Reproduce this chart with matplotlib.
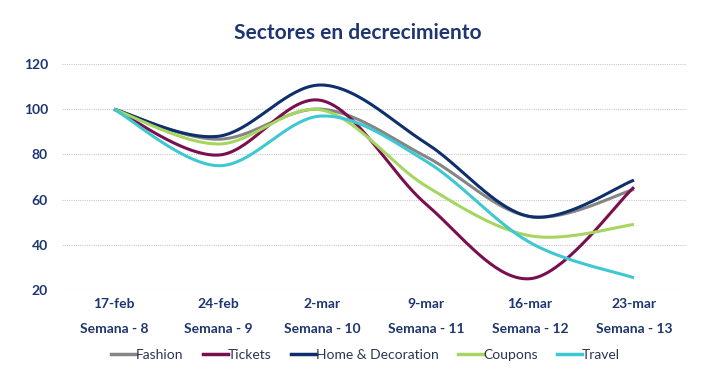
import numpy as np
import matplotlib
matplotlib.use("Agg")
import matplotlib.pyplot as plt
from matplotlib.lines import Line2D

fechas = ["17-feb", "24-feb", "2-mar", "9-mar", "16-mar", "23-mar"]
semanas = ["Semana - 8", "Semana - 9", "Semana - 10", "Semana - 11", "Semana - 12", "Semana - 13"]

fashion = [100, 86.7, 100, 79, 52.5, 64.5]
tickets = [100, 79.7, 103.8, 58, 25, 65.5]
home = [100, 88, 110.7, 85, 52.5, 68.6]
coupons = [100, 84.6, 99.6, 66, 44, 49]
travel = [100, 75, 97, 77, 41, 25.4]

series = [
    ("Fashion", fashion, "#858585"),
    ("Tickets", tickets, "#7a0f4f"),
    ("Home & Decoration", home, "#0e2f6b"),
    ("Coupons", coupons, "#a6d660"),
    ("Travel", travel, "#3ec8d2"),
]

NAVY = "#1d3570"


def smooth(x, y, n=40):
    # Bezier smoothing like spreadsheet "smoothed line"
    x = np.asarray(x, float)
    y = np.asarray(y, float)
    xs, ys = [], []
    for i in range(len(x) - 1):
        p0 = np.array([x[max(i - 1, 0)], y[max(i - 1, 0)]])
        p1 = np.array([x[i], y[i]])
        p2 = np.array([x[i + 1], y[i + 1]])
        p3 = np.array([x[min(i + 2, len(x) - 1)], y[min(i + 2, len(x) - 1)]])
        c1 = p1 + (p2 - p0) / 6
        c2 = p2 - (p3 - p1) / 6
        t = np.linspace(0, 1, n)[:, None]
        pts = ((1 - t) ** 3) * p1 + 3 * ((1 - t) ** 2) * t * c1 + 3 * (1 - t) * t ** 2 * c2 + t ** 3 * p2
        xs.extend(pts[:, 0])
        ys.extend(pts[:, 1])
    return np.array(xs), np.array(ys)


plt.rcParams["font.family"] = ["Lato", "DejaVu Sans"]

fig = plt.figure(figsize=(7.15, 3.73), dpi=100)
ax = fig.add_axes([62 / 715, 1 - 290 / 373, (686 - 62) / 715, (290 - 64) / 373])

xpos = np.arange(len(fechas))
handles = []
for name, vals, col in series:
    sx, sy = smooth(xpos, vals)
    ax.plot(sx, sy, color=col, lw=2.2, solid_capstyle="butt")
    handles.append(Line2D([0], [0], color=col, lw=2.5))

ax.set_xlim(-0.5, 5.5)
ax.set_ylim(20, 120)
ax.set_yticks(range(20, 121, 20))
ax.yaxis.grid(True, linestyle=(0, (1, 1)), color="#c8c8c8", lw=0.8)
ax.set_axisbelow(True)
for s in ax.spines.values():
    s.set_visible(False)
ax.tick_params(axis="both", length=0)
ax.tick_params(axis="y", pad=10)
for lab in ax.get_yticklabels():
    lab.set_color(NAVY)
    lab.set_fontweight("bold")
    lab.set_fontsize(10)

ax.set_xticks(xpos)
ax.set_xticklabels([f + "\n\n" + s for f, s in zip(fechas, semanas)],
                   color=NAVY, fontweight="bold", fontsize=10, linespacing=1.05)
ax.tick_params(axis="x", pad=6)

fig.text(0.5, 1 - 33 / 373, "Sectores en decrecimiento", ha="center", va="center",
         color=NAVY, fontsize=15, fontweight="bold")

fig.legend(handles, [s[0] for s in series], loc="center", bbox_to_anchor=(0.511, 1 - 355 / 373),
           ncol=5, frameon=False, fontsize=10, handlelength=1.8, handletextpad=0.0,
           columnspacing=1.4, labelcolor="#2a3550")

fig.savefig("out.png", dpi=100)
